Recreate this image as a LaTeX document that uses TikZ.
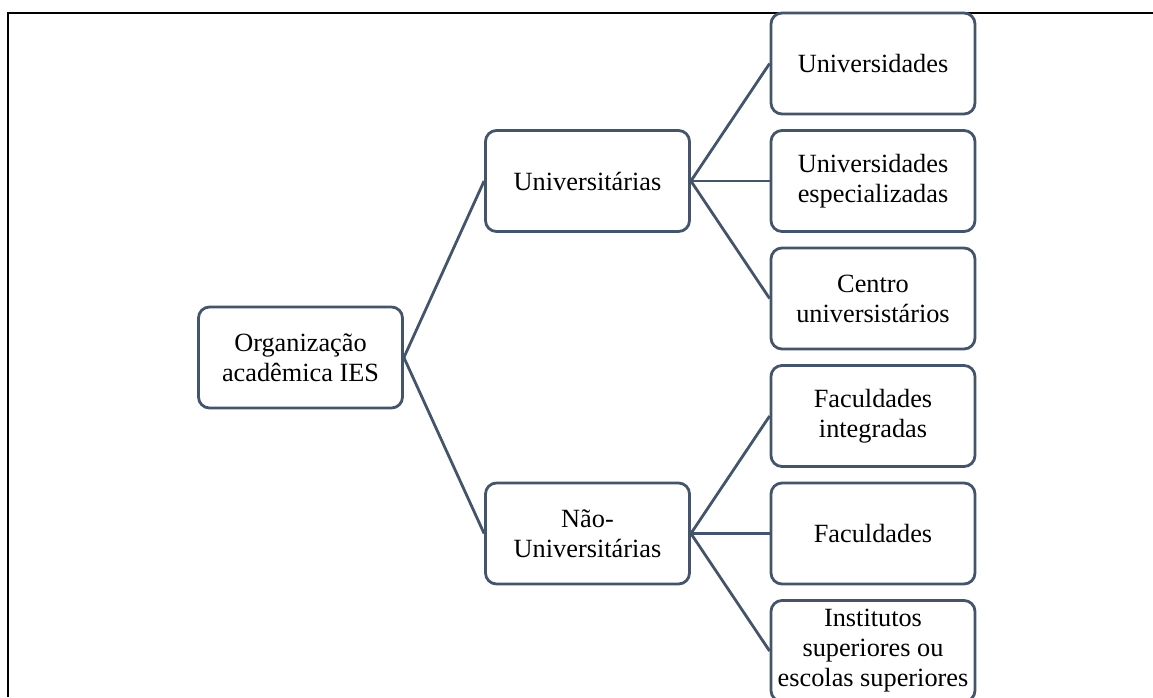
\documentclass[tikz,border=0pt]{standalone}
\usepackage{fontspec}
\setmainfont{Liberation Serif}
\definecolor{slate}{HTML}{44546A}
\begin{document}
\begin{tikzpicture}[x=1pt,y=-1pt,
  box/.style={draw=slate, line width=2.8pt, rounded corners=11pt, minimum width=204pt, minimum height=101pt, align=center, inner sep=0pt, font=\fontsize{26.3}{30}\selectfont, anchor=center},
  link/.style={draw=slate, line width=2.8pt}]
\useasboundingbox (0,0) rectangle (1153,697);
\clip (0,0) rectangle (1153,697);
\draw[line width=2pt] (7.5,697) -- (7.5,12.5) -- (1153,12.5);
\node[box] (org) at (300.5,357.5) {Organização\\acadêmica IES};
\node[box] (uni) at (587.5,181) {Universitárias};
\node[box] (nao) at (587.5,533.5) {Não-\\Universitárias};
\node[box] (l1) at (873,63.5) {Universidades};
\node[box] (l2) at (873,181) {Universidades\\especializadas};
\node[box] (l3) at (873,298.5) {Centro\\universistários};
\node[box] (l4) at (873,416) {Faculdades\\integradas};
\node[box] (l5) at (873,533.5) {Faculdades};
\node[box] (l6) at (873,651) {Institutos\\superiores ou\\escolas superiores};
\draw[link] (org.east) -- (uni.west);
\draw[link] (org.east) -- (nao.west);
\foreach \l in {l1,l2,l3} \draw[link] (uni.east) -- (\l.west);
\foreach \l in {l4,l5,l6} \draw[link] (nao.east) -- (\l.west);
\end{tikzpicture}
\end{document}
